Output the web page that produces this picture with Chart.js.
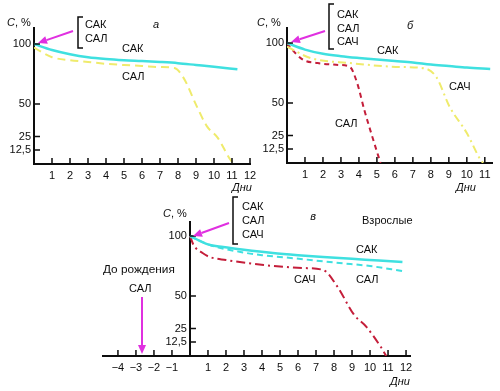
<!DOCTYPE html>
<html><head><meta charset="utf-8">
<script src="https://cdn.jsdelivr.net/npm/chart.js@4/dist/chart.umd.min.js"></script>
<style>
html,body{margin:0;padding:0;background:#fff;}
#wrap{position:relative;width:500px;height:391px;overflow:hidden;}
canvas{position:absolute;left:0;top:0;}
</style></head><body>
<div id="wrap">
<canvas id="ca" width="500" height="391"></canvas>
<canvas id="cb" width="500" height="391"></canvas>
<canvas id="cc" width="500" height="391"></canvas>
</div>
<script>
// ---- tick labels ----
const yTickValues = [12.5, 25, 50, 100];
const yTickLabels = ['12,5', '25', '50', '100'];
const xTicksA = [1,2,3,4,5,6,7,8,9,10,11,12];
const xTicksB = [1,2,3,4,5,6,7,8,9,10,11];
const xTicksC = [-4,-3,-2,-1,1,2,3,4,5,6,7,8,9,10,11,12];

// ---- panel а ----
const aSakDays = [0, 1, 2, 3, 4, 5, 6, 7, 8, 9, 10, 11.3];
const aSak     = [100, 95, 91.5, 89, 87.5, 86.5, 85.8, 85, 84, 82.5, 81, 79];
const aSalDays = [0, 1, 2, 3, 4, 5, 6, 7, 7.8, 8.3, 9.05, 9.6, 10.2, 10.9, 11.1];
const aSal     = [97, 89, 86.5, 85, 83.5, 82.5, 81.7, 80.8, 80, 72, 48, 33, 24, 4, 0];

// ---- panel б ----
const bSakDays  = [0, 1, 2, 3, 4, 5, 6, 7, 8, 9, 10, 11.3];
const bSak      = [100, 94.5, 91, 89, 87.5, 86.2, 85, 83.8, 82, 80.8, 79.5, 78.3];
const bSalDays  = [0, 0.2, 0.9, 1.7, 2.9, 3.5, 3.9, 4.3, 4.8, 5.2];
const bSal      = [100, 96, 86, 83.3, 81.7, 80, 66.7, 44.6, 20.8, 0];
const bSachDays = [0, 1.3, 3.5, 6.3, 7.6, 8.3, 9.05, 10, 10.7, 10.9];
const bSach     = [97, 87.5, 83.3, 80, 79, 71.7, 46.9, 26.9, 4.5, 0];

// ---- panel в ----
const cSakDays  = [0, 1, 1.85, 3, 4.6, 6, 7.4, 9, 10.5, 11.8];
const cSak      = [100, 93, 90.8, 88.5, 85.8, 84, 82.5, 81, 79.5, 78.3];
const cSalDays  = [0, 1.1, 2.8, 4, 5.6, 7, 8.3, 10, 11.8];
const cSal      = [100, 92.5, 86.7, 84, 81.7, 79.5, 77.5, 75, 70.8];
const cSachDays = [0, 0.2, 0.7, 1.1, 2, 4.1, 6.3, 7.4, 8.2, 9.1, 9.8, 10.6, 10.9];
const cSach     = [100, 92.5, 85.8, 82.5, 80, 75.8, 73.3, 71.7, 57.5, 35.8, 26.2, 8, 0];

// non-linear axis of the original: percent -> axis position
const anchorsV = [0, 12.5, 25, 50, 100];
const anchorsP = [0, 14, 27.5, 60, 120];
function toPos(v){
  for (let i=1;i<anchorsV.length;i++){
    if (v <= anchorsV[i]) {
      const t = (v-anchorsV[i-1])/(anchorsV[i]-anchorsV[i-1]);
      return anchorsP[i-1] + t*(anchorsP[i]-anchorsP[i-1]);
    }
  }
  const n = anchorsV.length-1;
  return anchorsP[n] + (v-anchorsV[n])*(anchorsP[n]-anchorsP[n-1])/(anchorsV[n]-anchorsV[n-1]);
}
const pts = (d, v) => d.map((x,i)=>({x, y: toPos(v[i])}));

const FONT = '"Liberation Sans", Arial, sans-serif';
const CYAN = '#3fe0e0', YEL = '#efeb6c', RED = '#c41e3a', MAG = '#e030e0', INK = '#0d0d0d';

function ds(d, v, color, dash, w){
  return {data: pts(d, v), borderColor: color, borderWidth: w || 2, borderDash: dash || [],
          pointRadius: 0, fill: false, cubicInterpolationMode: 'monotone', borderCapStyle: 'butt'};
}

const tickMarks = {
  id: 'tickMarks',
  afterDraw(chart){
    const {ctx, scales:{x, y}} = chart;
    const x0 = x.getPixelForValue(0), yb = y.getPixelForValue(0);
    ctx.save(); ctx.strokeStyle = INK; ctx.lineWidth = 1.5;
    ctx.beginPath();
    x.ticks.forEach(t=>{ const px = x.getPixelForValue(t.value); ctx.moveTo(px, yb); ctx.lineTo(px, yb-6); });
    y.ticks.forEach(t=>{ const py = y.getPixelForValue(t.value); ctx.moveTo(x0, py); ctx.lineTo(x0+6, py); });
    ctx.stroke(); ctx.restore();
  }
};

const notes = {
  id: 'notes',
  afterDraw(chart, args, o){
    const ctx = chart.ctx; ctx.save();
    ctx.textBaseline = 'middle';
    (o.texts||[]).forEach(tx=>{
      let x = tx.x;
      const parts = tx.parts || [{t: tx.t, i: tx.i}];
      ctx.fillStyle = INK;
      if (tx.center) {
        let w = 0; parts.forEach(p=>{ ctx.font = (p.i?'italic ':'') + (tx.s||11) + 'px ' + FONT; w += ctx.measureText(p.t).width; });
        x -= w/2;
      }
      parts.forEach(p=>{
        ctx.font = (p.i?'italic ':'') + (tx.s||11) + 'px ' + FONT;
        ctx.textAlign = 'left';
        ctx.fillText(p.t, x, tx.y);
        x += ctx.measureText(p.t).width;
      });
    });
    ctx.strokeStyle = INK; ctx.lineWidth = 1.5;
    (o.brackets||[]).forEach(b=>{
      ctx.beginPath(); ctx.moveTo(b.x+5, b.y1); ctx.lineTo(b.x, b.y1); ctx.lineTo(b.x, b.y2); ctx.lineTo(b.x+5, b.y2); ctx.stroke();
    });
    (o.arrows||[]).forEach(a=>{
      const ang = Math.atan2(a.y2-a.y1, a.x2-a.x1), L = 9, W = 4;
      const bx = a.x2 - L*Math.cos(ang), by = a.y2 - L*Math.sin(ang);
      ctx.strokeStyle = MAG; ctx.fillStyle = MAG; ctx.lineWidth = 2;
      ctx.beginPath(); ctx.moveTo(a.x1, a.y1); ctx.lineTo(bx, by); ctx.stroke();
      ctx.beginPath(); ctx.moveTo(a.x2, a.y2);
      ctx.lineTo(bx + W*Math.sin(ang), by - W*Math.cos(ang));
      ctx.lineTo(bx - W*Math.sin(ang), by + W*Math.cos(ang));
      ctx.closePath(); ctx.fill();
    });
    ctx.restore();
  }
};

function makeChart(id, cfg){
  const xs = {
    type: 'linear', min: cfg.xmin, max: cfg.xmax,
    grid: {display: false, drawTicks: false}, border: {display: true, color: INK, width: 2},
    afterBuildTicks: s => { s.ticks = cfg.xticks.map(v=>({value: v})); },
    afterFit: s => { s.height = 31; },
    ticks: {font: {family: FONT, size: 11}, color: INK, padding: 5, maxRotation: 0, autoSkip: false,
            callback: v => v < 0 ? '\u2212' + (-v) : String(v)}
  };
  const ys = {
    type: 'linear', min: 0, max: cfg.ymax,
    grid: {display: false, drawTicks: false}, border: {display: true, color: INK, width: 2},
    afterBuildTicks: s => { s.ticks = yTickValues.map(v=>({value: toPos(v)})); },
    ticks: {font: {family: FONT, size: 11}, color: INK, padding: 3,
            callback: (v, i) => cfg.yAtZero ? yTickLabels[i] + ' ' : yTickLabels[i]}
  };
  if (cfg.yAtZero) { ys.position = {x: 0}; } else { ys.afterFit = s => { s.width = 34; }; }
  return new Chart(document.getElementById(id), {
    type: 'line',
    data: {datasets: cfg.datasets},
    options: {
      responsive: false, animation: false, devicePixelRatio: 1,
      layout: {padding: cfg.pad},
      scales: {x: xs, y: ys},
      plugins: {legend: {display: false}, tooltip: {enabled: false}, notes: cfg.notes}
    },
    plugins: [tickMarks, notes]
  });
}

const CP = [{t:'С', i:true}, {t:', %'}];

makeChart('ca', {
  xmin: 0, xmax: 12, ymax: 136, xticks: xTicksA,
  pad: {left: 0, right: 250, top: 28, bottom: 196},
  datasets: [ds(aSakDays, aSak, CYAN, [], 2.5), ds(aSalDays, aSal, YEL, [8,5], 2)],
  notes: {
    texts: [
      {parts: CP, x: 7, y: 23}, {t:'а', i:true, x: 156, y: 25, center: true},
      {t:'САК', x: 85, y: 25}, {t:'САЛ', x: 85, y: 39},
      {t:'САК', x: 122, y: 49}, {t:'САЛ', x: 122, y: 77},
      {t:'Дни', i:true, x: 232, y: 188}
    ],
    brackets: [{x: 78, y1: 17, y2: 48}],
    arrows: [{x1: 73, y1: 31, x2: 38, y2: 43}]
  }
});

makeChart('cb', {
  xmin: 0, xmax: 11.4, ymax: 135, xticks: xTicksB,
  pad: {left: 253, right: 8, top: 28, bottom: 197},
  datasets: [ds(bSakDays, bSak, CYAN, [], 2.5), ds(bSachDays, bSach, YEL, [8,4,2,4], 2), ds(bSalDays, bSal, RED, [5,4], 2)],
  notes: {
    texts: [
      {parts: CP, x: 257, y: 23}, {t:'б', i:true, x: 410, y: 26, center: true},
      {t:'САК', x: 337, y: 15}, {t:'САЛ', x: 337, y: 29}, {t:'САЧ', x: 337, y: 42},
      {t:'САК', x: 377, y: 51}, {t:'САЧ', x: 449, y: 87}, {t:'САЛ', x: 335, y: 124},
      {t:'Дни', i:true, x: 456, y: 188}
    ],
    brackets: [{x: 329, y1: 4, y2: 49}],
    arrows: [{x1: 325, y1: 31, x2: 291, y2: 42}]
  }
});

makeChart('cc', {
  xmin: -4.83, xmax: 12.22, ymax: 134, xticks: xTicksC, yAtZero: true,
  pad: {left: 103, right: 90, top: 222, bottom: 4},
  datasets: [ds(cSakDays, cSak, CYAN, [], 2.5), ds(cSalDays, cSal, CYAN, [6,4], 2), ds(cSachDays, cSach, RED, [9,4,2,4], 2)],
  notes: {
    texts: [
      {parts: CP, x: 163, y: 214}, {t:'в', i:true, x: 313, y: 217, center: true},
      {t:'САК', x: 242, y: 207}, {t:'САЛ', x: 242, y: 221}, {t:'САЧ', x: 242, y: 235},
      {t:'Взрослые', x: 362, y: 221},
      {t:'САК', x: 356, y: 250}, {t:'САЛ', x: 356, y: 280}, {t:'САЧ', x: 294, y: 280},
      {t:'До рождения', x: 103, y: 270, s: 11.8}, {t:'САЛ', x: 129, y: 289},
      {t:'Дни', i:true, x: 390, y: 382}
    ],
    brackets: [{x: 233, y1: 197, y2: 244}],
    arrows: [{x1: 229, y1: 223, x2: 193, y2: 236}, {x1: 142, y1: 297, x2: 142, y2: 354}]
  }
});
</script>
</body></html>
